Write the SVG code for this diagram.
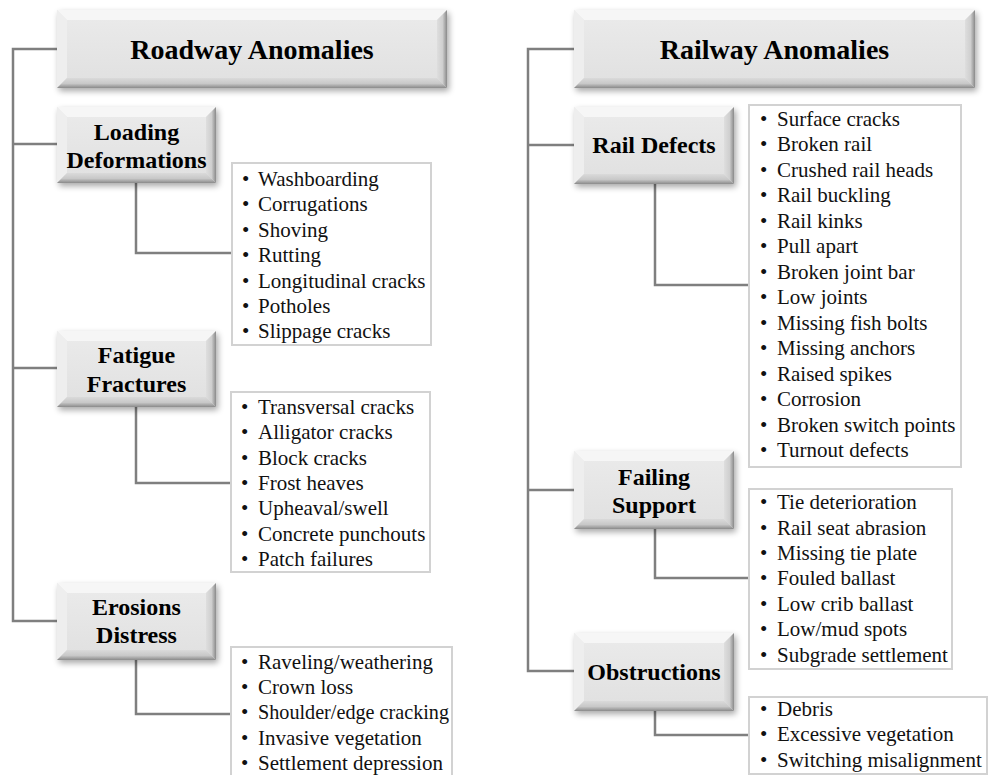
<svg xmlns="http://www.w3.org/2000/svg" width="988" height="775" viewBox="0 0 988 775">
<defs>
<linearGradient id="gR" x1="0" y1="0" x2="1" y2="0"><stop offset="0" stop-color="#dedede"/><stop offset="0.55" stop-color="#cfcfcf"/><stop offset="1" stop-color="#8a8a8a"/></linearGradient>
<linearGradient id="gB" x1="0" y1="0" x2="0" y2="1"><stop offset="0" stop-color="#dadada"/><stop offset="0.55" stop-color="#c8c8c8"/><stop offset="1" stop-color="#8a8a8a"/></linearGradient>
<linearGradient id="gF" x1="0" y1="0" x2="0" y2="1"><stop offset="0" stop-color="#ebebeb"/><stop offset="1" stop-color="#e0e0e0"/></linearGradient>
<filter id="sh" x="-10%" y="-20%" width="120%" height="150%"><feGaussianBlur stdDeviation="3"/></filter>
</defs>
<style>
.ln{stroke:#7f7f7f;stroke-width:2.5;fill:none}
.lst{fill:#fff;stroke:#d2d2d2;stroke-width:2}
.t{font-family:"Liberation Serif","Times New Roman",serif;font-size:21px;fill:#111}
.h{font-family:"Liberation Serif","Times New Roman",serif;font-weight:bold;font-size:24px;text-anchor:middle;fill:#000}
.ht{font-size:28px}
.shd{fill:#000;opacity:0.35;filter:url(#sh)}
.face{fill:url(#gF)}
.tp{fill:#f6f6f6}
.lf{fill:#eeeeee}
.rt{fill:url(#gR)}
.bt{fill:url(#gB)}
</style>
<rect width="988" height="775" fill="#fff"/>

<g id="connectors">
<path class="ln" d="M57 49 H13 V621 H57 M13 144 H57 M13 368 H57"/>
<path class="ln" d="M136 183 V253 H232"/>
<path class="ln" d="M136 407 V483 H231"/>
<path class="ln" d="M136 660 V714 H231"/>
<path class="ln" d="M574 49 H528 V671 H574 M528 145 H574 M528 490 H574"/>
<path class="ln" d="M655 184 V285 H749"/>
<path class="ln" d="M655 529 V578 H749"/>
<path class="ln" d="M655 711 V735 H749"/>
</g>

<g id="roadway-title">
<rect class="shd" x="59" y="13" width="390" height="78"/>
<rect class="face" x="57" y="10" width="390" height="78"/>
<polygon class="tp" points="57,10 447,10 437,20 67,20"/>
<polygon class="lf" points="57,10 67,20 67,78 57,88"/>
<polygon class="rt" points="447,10 447,88 437,78 437,20"/>
<polygon class="bt" points="57,88 447,88 437,78 67,78"/>
<text class="h ht" x="252" y="59">Roadway Anomalies</text>
</g>

<g id="loading-deformations">
<rect class="shd" x="59" y="110" width="159" height="76"/>
<rect class="face" x="57" y="107" width="159" height="76"/>
<polygon class="tp" points="57,107 216,107 206,117 67,117"/>
<polygon class="lf" points="57,107 67,117 67,173 57,183"/>
<polygon class="rt" points="216,107 216,183 206,173 206,117"/>
<polygon class="bt" points="57,183 216,183 206,173 67,173"/>
<text class="h" x="136.5" y="140">Loading</text>
<text class="h" x="136.5" y="168">Deformations</text>
</g>

<g id="fatigue-fractures">
<rect class="shd" x="59" y="334" width="159" height="76"/>
<rect class="face" x="57" y="331" width="159" height="76"/>
<polygon class="tp" points="57,331 216,331 206,341 67,341"/>
<polygon class="lf" points="57,331 67,341 67,397 57,407"/>
<polygon class="rt" points="216,331 216,407 206,397 206,341"/>
<polygon class="bt" points="57,407 216,407 206,397 67,397"/>
<text class="h" x="136.5" y="363">Fatigue</text>
<text class="h" x="136.5" y="392">Fractures</text>
</g>

<g id="erosions-distress">
<rect class="shd" x="59" y="586" width="159" height="77"/>
<rect class="face" x="57" y="583" width="159" height="77"/>
<polygon class="tp" points="57,583 216,583 206,593 67,593"/>
<polygon class="lf" points="57,583 67,593 67,650 57,660"/>
<polygon class="rt" points="216,583 216,660 206,650 206,593"/>
<polygon class="bt" points="57,660 216,660 206,650 67,650"/>
<text class="h" x="136.5" y="615">Erosions</text>
<text class="h" x="136.5" y="643">Distress</text>
</g>

<g id="loading-list">
<rect class="lst" x="232" y="163" width="199" height="182"/>
<text class="t" x="242" y="186">•<tspan x="258">Washboarding</tspan></text>
<text class="t" x="242" y="211">•<tspan x="258">Corrugations</tspan></text>
<text class="t" x="242" y="237">•<tspan x="258">Shoving</tspan></text>
<text class="t" x="242" y="262">•<tspan x="258">Rutting</tspan></text>
<text class="t" x="242" y="288">•<tspan x="258">Longitudinal cracks</tspan></text>
<text class="t" x="242" y="313">•<tspan x="258">Potholes</tspan></text>
<text class="t" x="242" y="338">•<tspan x="258">Slippage cracks</tspan></text>
</g>

<g id="fatigue-list">
<rect class="lst" x="231" y="392" width="199" height="180"/>
<text class="t" x="241" y="414">•<tspan x="258">Transversal cracks</tspan></text>
<text class="t" x="241" y="439">•<tspan x="258">Alligator cracks</tspan></text>
<text class="t" x="241" y="465">•<tspan x="258">Block cracks</tspan></text>
<text class="t" x="241" y="490">•<tspan x="258">Frost heaves</tspan></text>
<text class="t" x="241" y="515">•<tspan x="258">Upheaval/swell</tspan></text>
<text class="t" x="241" y="541">•<tspan x="258">Concrete punchouts</tspan></text>
<text class="t" x="241" y="566">•<tspan x="258">Patch failures</tspan></text>
</g>

<g id="erosions-list">
<rect class="lst" x="231" y="647" width="221" height="131"/>
<text class="t" x="241" y="669">•<tspan x="258">Raveling/weathering</tspan></text>
<text class="t" x="241" y="694">•<tspan x="258">Crown loss</tspan></text>
<text class="t" x="241" y="719">•<tspan x="258" textLength="191" lengthAdjust="spacingAndGlyphs">Shoulder/edge cracking</tspan></text>
<text class="t" x="241" y="745">•<tspan x="258">Invasive vegetation</tspan></text>
<text class="t" x="241" y="770">•<tspan x="258">Settlement depression</tspan></text>
</g>

<g id="railway-title">
<rect class="shd" x="576" y="13" width="401" height="78"/>
<rect class="face" x="574" y="10" width="401" height="78"/>
<polygon class="tp" points="574,10 975,10 965,20 584,20"/>
<polygon class="lf" points="574,10 584,20 584,78 574,88"/>
<polygon class="rt" points="975,10 975,88 965,78 965,20"/>
<polygon class="bt" points="574,88 975,88 965,78 584,78"/>
<text class="h ht" x="774.5" y="59">Railway Anomalies</text>
</g>

<g id="rail-defects">
<rect class="shd" x="576" y="110" width="160" height="77"/>
<rect class="face" x="574" y="107" width="160" height="77"/>
<polygon class="tp" points="574,107 734,107 724,117 584,117"/>
<polygon class="lf" points="574,107 584,117 584,174 574,184"/>
<polygon class="rt" points="734,107 734,184 724,174 724,117"/>
<polygon class="bt" points="574,184 734,184 724,174 584,174"/>
<text class="h" x="654" y="153">Rail Defects</text>
</g>

<g id="failing-support">
<rect class="shd" x="576" y="454" width="160" height="78"/>
<rect class="face" x="574" y="451" width="160" height="78"/>
<polygon class="tp" points="574,451 734,451 724,461 584,461"/>
<polygon class="lf" points="574,451 584,461 584,519 574,529"/>
<polygon class="rt" points="734,451 734,529 724,519 724,461"/>
<polygon class="bt" points="574,529 734,529 724,519 584,519"/>
<text class="h" x="654" y="485">Failing</text>
<text class="h" x="654" y="513">Support</text>
</g>

<g id="obstructions">
<rect class="shd" x="576" y="636" width="160" height="78"/>
<rect class="face" x="574" y="633" width="160" height="78"/>
<polygon class="tp" points="574,633 734,633 724,643 584,643"/>
<polygon class="lf" points="574,633 584,643 584,701 574,711"/>
<polygon class="rt" points="734,633 734,711 724,701 724,643"/>
<polygon class="bt" points="574,711 734,711 724,701 584,701"/>
<text class="h" x="654" y="680">Obstructions</text>
</g>

<g id="rail-defects-list">
<rect class="lst" x="749" y="105" width="212" height="362"/>
<text class="t" x="760" y="126">•<tspan x="777">Surface cracks</tspan></text>
<text class="t" x="760" y="151">•<tspan x="777">Broken rail</tspan></text>
<text class="t" x="760" y="177">•<tspan x="777">Crushed rail heads</tspan></text>
<text class="t" x="760" y="202">•<tspan x="777">Rail buckling</tspan></text>
<text class="t" x="760" y="228">•<tspan x="777">Rail kinks</tspan></text>
<text class="t" x="760" y="253">•<tspan x="777">Pull apart</tspan></text>
<text class="t" x="760" y="279">•<tspan x="777">Broken joint bar</tspan></text>
<text class="t" x="760" y="304">•<tspan x="777">Low joints</tspan></text>
<text class="t" x="760" y="330">•<tspan x="777">Missing fish bolts</tspan></text>
<text class="t" x="760" y="355">•<tspan x="777">Missing anchors</tspan></text>
<text class="t" x="760" y="381">•<tspan x="777">Raised spikes</tspan></text>
<text class="t" x="760" y="406">•<tspan x="777">Corrosion</tspan></text>
<text class="t" x="760" y="432">•<tspan x="777">Broken switch points</tspan></text>
<text class="t" x="760" y="457">•<tspan x="777">Turnout defects</tspan></text>
</g>

<g id="failing-support-list">
<rect class="lst" x="749" y="489" width="203" height="180"/>
<text class="t" x="760" y="509">•<tspan x="777">Tie deterioration</tspan></text>
<text class="t" x="760" y="535">•<tspan x="777">Rail seat abrasion</tspan></text>
<text class="t" x="760" y="560">•<tspan x="777">Missing tie plate</tspan></text>
<text class="t" x="760" y="585">•<tspan x="777">Fouled ballast</tspan></text>
<text class="t" x="760" y="611">•<tspan x="777">Low crib ballast</tspan></text>
<text class="t" x="760" y="636">•<tspan x="777">Low/mud spots</tspan></text>
<text class="t" x="760" y="662">•<tspan x="777">Subgrade settlement</tspan></text>
</g>

<g id="obstructions-list">
<rect class="lst" x="749" y="697" width="238" height="77"/>
<text class="t" x="760" y="716">•<tspan x="777">Debris</tspan></text>
<text class="t" x="760" y="741">•<tspan x="777">Excessive vegetation</tspan></text>
<text class="t" x="760" y="767">•<tspan x="777">Switching misalignment</tspan></text>
</g>
</svg>
